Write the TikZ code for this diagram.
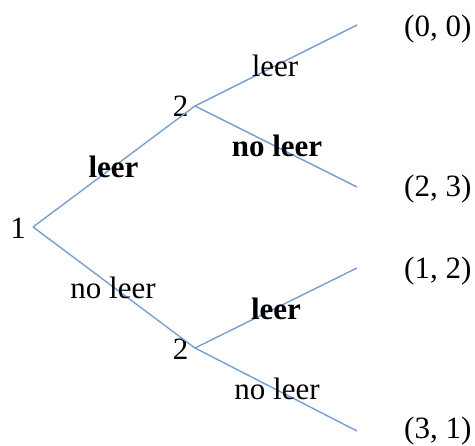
\documentclass[tikz,border=0pt]{standalone}
\usepackage{fontspec}
\setmainfont{Liberation Serif}
\definecolor{edgeblue}{RGB}{120,158,205}
\begin{document}
\begin{tikzpicture}[x=1pt,y=-1pt,
  edge/.style={draw=edgeblue,line width=1.4pt},
  lbl/.style={inner sep=0pt,anchor=base,font=\fontsize{31}{37}\selectfont},
  blbl/.style={lbl,font=\fontsize{31}{37}\selectfont\bfseries},
  leaf/.style={lbl,anchor=base west}]
\useasboundingbox (0,0) rectangle (475,446);
% vertices
\coordinate (r) at (33,227);
\coordinate (a) at (195,106);
\coordinate (b) at (195,348);
\coordinate (a1) at (357,25);
\coordinate (a2) at (357,187);
\coordinate (b1) at (357,268);
\coordinate (b2) at (357,431);
% player labels
\node[lbl] (n1) at (18,239) {1};
\node[lbl] (n2a) at (180.5,117) {2};
\node[lbl] (n2b) at (180.5,360) {2};
% edges
\draw[edge] (r) -- (a);
\draw[edge] (r) -- (b);
\draw[edge] (a) -- (a1);
\draw[edge] (a) -- (a2);
\draw[edge] (b) -- (b1);
\draw[edge] (b) -- (b2);
% edge labels
\node[blbl] (l1) at (113.5,178) {leer};
\node[lbl] (l2) at (113,299) {no leer};
\node[lbl] (l3) at (275,77) {leer};
\node[blbl] (l4) at (277,157) {no leer};
\node[blbl] (l5) at (276,320) {leer};
\node[lbl] (l6) at (277,400) {no leer};
% payoffs
\node[leaf] (p1) at (404,37) {(0, 0)};
\node[leaf] (p2) at (404,197) {(2, 3)};
\node[leaf] (p3) at (404,279) {(1, 2)};
\node[leaf] (p4) at (404,439) {(3, 1)};
\end{tikzpicture}
\end{document}
